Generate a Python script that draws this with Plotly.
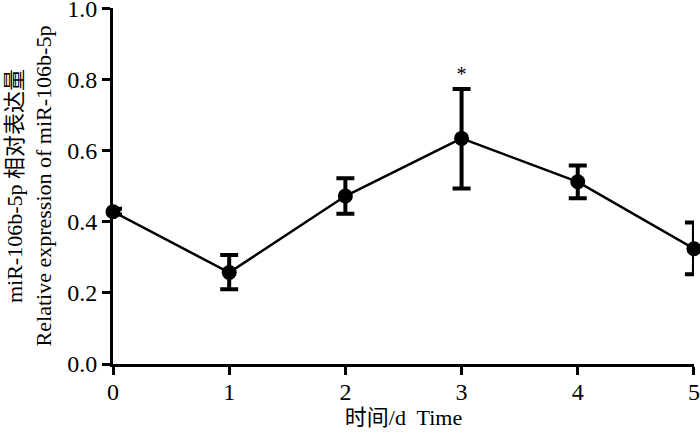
import plotly.graph_objects as go

days = [0, 1, 2, 3, 4, 5]
expr = [0.428, 0.257, 0.472, 0.634, 0.512, 0.324]
err_up = [0.008, 0.049, 0.050, 0.139, 0.046, 0.074]
err_down = [0.008, 0.047, 0.050, 0.141, 0.046, 0.072]
star_x = [3]
star_y = [0.81]
y_ticks = [0.0, 0.2, 0.4, 0.6, 0.8, 1.0]

FONT = "Liberation Serif, Times New Roman, Noto Sans CJK SC, serif"

fig = go.Figure()

fig.add_trace(
    go.Scatter(
        x=days,
        y=expr,
        mode="lines+markers",
        line=dict(color="black", width=2.5),
        marker=dict(color="black", size=15),
        error_y=dict(
            type="data",
            symmetric=False,
            array=err_up,
            arrayminus=err_down,
            color="black",
            thickness=4,
            width=9,
        ),
        cliponaxis=False,
        showlegend=False,
    )
)

# significance marker
fig.add_trace(
    go.Scatter(
        x=star_x,
        y=star_y,
        mode="text",
        text=["*"],
        textfont=dict(family=FONT, size=20, color="black"),
        cliponaxis=False,
        showlegend=False,
    )
)

fig.update_layout(
    width=700,
    height=434,
    margin=dict(l=113, r=6, t=8, b=70),
    paper_bgcolor="white",
    plot_bgcolor="white",
    font=dict(family=FONT, color="black", size=22),
)

fig.update_xaxes(
    range=[0, 5.0005],
    tickvals=days,
    ticks="outside",
    ticklen=8,
    tickwidth=3,
    tickcolor="black",
    showline=True,
    linewidth=3,
    linecolor="black",
    showgrid=False,
    zeroline=False,
    automargin=False,
    ticklabeloverflow="allow",
    ticklabelstandoff=-4,
    tickfont=dict(size=24),
    title=dict(text="时间/d  Time", font=dict(size=22), standoff=0),
)

fig.update_yaxes(
    range=[0, 1.0005],
    tickvals=y_ticks,
    tickformat=".1f",
    ticks="outside",
    ticklen=8,
    tickwidth=3,
    tickcolor="black",
    showline=True,
    linewidth=3,
    linecolor="black",
    showgrid=False,
    zeroline=False,
    automargin=False,
    ticklabeloverflow="allow",
    tickfont=dict(size=24),
    title=dict(
        text="miR-106b-5p 相对表达量<br>Relative expression of miR-106b-5p",
        font=dict(size=22),
        standoff=10,
    ),
)

# page has an 8px body margin by default; drop it so the figure fills the window
fig.write_html(
    "out.html",
    config={"displayModeBar": False},
    post_script="document.body.style.margin='0';",
)
